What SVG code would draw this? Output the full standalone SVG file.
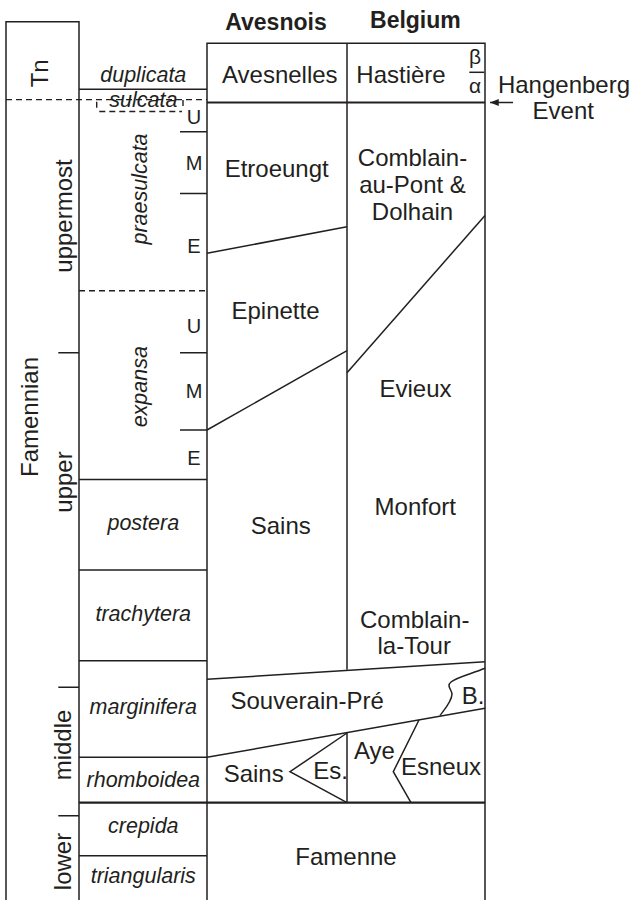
<svg xmlns="http://www.w3.org/2000/svg" width="632" height="900" viewBox="0 0 632 900">
<defs>
<style>
.ln{stroke:#231f20;stroke-width:1.5;fill:none}
.th{stroke:#231f20;stroke-width:2.2;fill:none}
.ds{stroke:#231f20;stroke-width:1.4;fill:none;stroke-dasharray:6 4}
text{font-family:"Liberation Sans",Arial,Helvetica,sans-serif;fill:#231f20;font-size:24px}
.z{font-style:italic;font-size:21.5px}
.s{font-size:20px}
.h{font-weight:bold;font-size:23px}
.g{font-size:21px}
</style>
<marker id="ah" viewBox="0 0 10 8" refX="10" refY="4" markerWidth="9" markerHeight="7" markerUnits="userSpaceOnUse" orient="auto">
<path d="M0,0 L10,4 L0,8 z" fill="#231f20"/>
</marker>
</defs>
<rect width="632" height="900" fill="#ffffff"/>

<g id="frame">
<path class="ln" d="M6,900 V21.7 H79 V900"/>
<path class="ln" d="M207,900 V43.3 H485 V900"/>
<path class="ln" d="M347,43.3 V669.8"/>
<path class="th" d="M207,102.5 H485"/>
<path class="th" d="M79,802.7 H485"/>
</g>

<g id="stage-column">
<text transform="translate(48.3,73.3) rotate(-90)" text-anchor="middle">Tn</text>
<text transform="translate(72,216) rotate(-90)" text-anchor="middle">uppermost</text>
<text transform="translate(38.3,417) rotate(-90)" text-anchor="middle">Famennian</text>
<text transform="translate(72,482) rotate(-90)" text-anchor="middle">upper</text>
<text transform="translate(70.7,745) rotate(-90)" text-anchor="middle">middle</text>
<text transform="translate(70.7,861.5) rotate(-90)" text-anchor="middle">lower</text>
<path class="ln" d="M58.3,352.7 H79 M58.3,687.3 H79 M58.3,815.7 H79"/>
</g>

<g id="zone-column">
<path class="ln" d="M79,89.3 H207"/>
<path class="ds" d="M6,99.6 H207"/>
<path class="ds" d="M96.7,101.7 V108 M99.3,111.5 H182 M183,100 V110"/>
<path class="ln" d="M180,131.7 H207 M180,193.5 H207"/>
<path class="ds" d="M79,290.7 H207"/>
<path class="ln" d="M180,352.7 H207 M180,430 H207"/>
<path class="ln" d="M79,479.5 H207 M79,570 H207 M79,660.7 H207 M79,757.3 H207 M79,855.7 H207"/>
<text class="z" x="143.3" y="81.7" text-anchor="middle">duplicata</text>
<text class="z" x="143.3" y="106.7" text-anchor="middle">sulcata</text>
<text class="z" transform="translate(147,189) rotate(-90)" text-anchor="middle">praesulcata</text>
<text class="z" transform="translate(147,386.7) rotate(-90)" text-anchor="middle">expansa</text>
<text class="z" x="143.3" y="530" text-anchor="middle">postera</text>
<text class="z" x="143.3" y="620.5" text-anchor="middle">trachytera</text>
<text class="z" x="143.3" y="714" text-anchor="middle">marginifera</text>
<text class="z" x="143.3" y="786.7" text-anchor="middle">rhomboidea</text>
<text class="z" x="143.3" y="833.3" text-anchor="middle">crepida</text>
<text class="z" x="143.3" y="883.3" text-anchor="middle">triangularis</text>
<text class="s" x="194" y="124" text-anchor="middle">U</text>
<text class="s" x="194" y="170" text-anchor="middle">M</text>
<text class="s" x="194" y="253.3" text-anchor="middle">E</text>
<text class="s" x="194" y="333.3" text-anchor="middle">U</text>
<text class="s" x="194" y="398.3" text-anchor="middle">M</text>
<text class="s" x="194" y="465" text-anchor="middle">E</text>
</g>

<g id="avesnois">
<text class="h" x="276" y="30" text-anchor="middle">Avesnois</text>
<text x="279.8" y="82.7" text-anchor="middle">Avesnelles</text>
<text x="276.7" y="176.7" text-anchor="middle">Etroeungt</text>
<text x="275.5" y="319.3" text-anchor="middle">Epinette</text>
<text x="280.8" y="534" text-anchor="middle">Sains</text>
<text x="253.7" y="781.7" text-anchor="middle">Sains</text>
<text x="313.3" y="779.3">Es.</text>
</g>

<g id="belgium">
<text class="h" x="415.4" y="28" text-anchor="middle">Belgium</text>
<text x="401" y="82.7" text-anchor="middle">Hastière</text>
<text class="g" x="475" y="64" text-anchor="middle">β</text>
<text class="g" x="475" y="93" text-anchor="middle">α</text>
<path class="ln" d="M469.3,72.3 H484.3"/>
<text x="412.5" y="165.7" text-anchor="middle">Comblain-</text>
<text x="412.5" y="192.7" text-anchor="middle">au-Pont &amp;</text>
<text x="412.5" y="220" text-anchor="middle">Dolhain</text>
<text x="415.5" y="397.3" text-anchor="middle">Evieux</text>
<text x="415.3" y="515" text-anchor="middle">Monfort</text>
<text x="414.7" y="628.3" text-anchor="middle">Comblain-</text>
<text x="414.2" y="654" text-anchor="middle">la-Tour</text>
<text x="461.7" y="704">B.</text>
<text x="354" y="759">Aye</text>
<text x="401" y="775">Esneux</text>
</g>

<g id="shared">
<text x="307.2" y="709.3" text-anchor="middle">Souverain-Pré</text>
<text x="346" y="865" text-anchor="middle">Famenne</text>
</g>

<g id="connectors">
<path class="ln" d="M207,253.3 L347,226.7"/>
<path class="ln" d="M207,430 L347,350.7"/>
<path class="ln" d="M347,372.7 L485,215.5"/>
<path class="ln" d="M207,679.3 L485,661.7"/>
<path class="ln" d="M207,757.3 L485,708.3"/>
<path class="ln" d="M485,668.3 C471,674 457,677 451,682 C446,686 452,690 452,694 C452,701 445,709 440,715.5"/>
<path class="ln" d="M347,733 L290,771.7 L347,802.7"/>
<path class="ln" d="M347,733 V802.7"/>
<path class="ln" d="M419,720 L393.3,771.7 L411,802.7"/>
</g>

<g id="hangenberg">
<text x="564" y="93.3" text-anchor="middle">Hangenberg</text>
<text x="563.3" y="119.3" text-anchor="middle">Event</text>
<path class="ln" d="M513,102.5 H490" marker-end="url(#ah)"/>
</g>
</svg>
